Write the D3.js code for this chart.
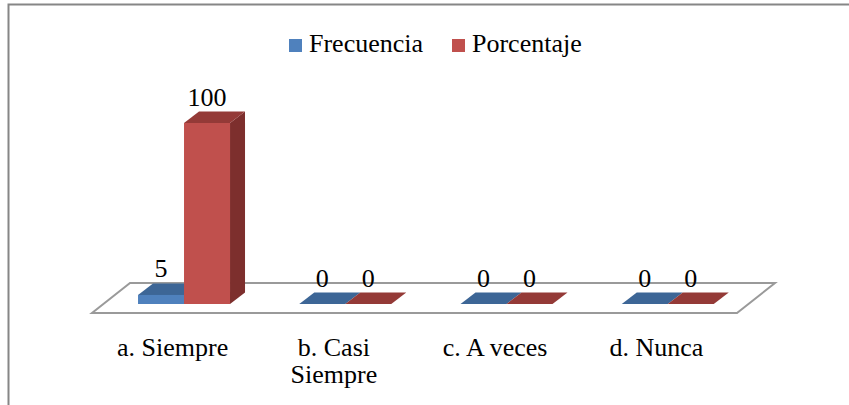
<!DOCTYPE html>
<html>
<head>
<meta charset="utf-8">
<script src="https://cdn.jsdelivr.net/npm/d3@7"></script>
<style>
  html, body { margin: 0; padding: 0; background: #fff; }
</style>
</head>
<body>
<svg id="chart" width="849" height="405"></svg>
<script>
// ---- data ----
const categories = ["a. Siempre", "b. Casi Siempre", "c. A veces", "d. Nunca"];
const seriesNames = ["Frecuencia", "Porcentaje"];
const frecuencia = [5, 0, 0, 0];
const porcentaje = [100, 0, 0, 0];
const yDomain = [0, 100];

// ---- styling ----
const FONT = "Tinos, FreeSerif, serif";
const FS = 26;
const colors = {
  Frecuencia: { front: "#4F81BD", top: "#3D6696", side: "#2F5079" },
  Porcentaje: { front: "#C0504D", top: "#943A37", side: "#7D2F2D" }
};

const svg = d3.select("#chart");
const data = categories.map((c, i) => ({ cat: c, Frecuencia: frecuencia[i], Porcentaje: porcentaje[i] }));

// chart border (only top/left visible in frame)
svg.append("rect").attr("x", 8.5).attr("y", 4.5).attr("width", 900).attr("height", 500)
  .attr("fill", "none").attr("stroke", "#868686").attr("stroke-width", 2);

// floor geometry
const floorFrontY = 313, floorLeft = 92, floorRight = 737;
const floorDX = 38, floorDY = -30;
const insetDX = 11.4, insetDY = -9;      // bar front plane offset from floor front
const barDX = 15, barDY = -11.5;         // bar depth

svg.append("path")
  .attr("d", `M${floorLeft},${floorFrontY} L${floorRight},${floorFrontY} L${floorRight + floorDX},${floorFrontY + floorDY} L${floorLeft + floorDX},${floorFrontY + floorDY} Z`)
  .attr("fill", "#fff").attr("stroke", "#9a9a9a").attr("stroke-width", 2);

// scales
const baseY = floorFrontY + insetDY;
const x0 = d3.scaleBand().domain(categories)
  .range([floorLeft + insetDX, floorRight + insetDX]).paddingInner(0).paddingOuter(0);
const barW = 46;
const x1 = d3.scaleBand().domain(seriesNames)
  .range([(x0.bandwidth() - 2 * barW) / 2, (x0.bandwidth() + 2 * barW) / 2]);
const y = d3.scaleLinear().domain(yDomain).range([baseY, 123]);

const txt = (sel) => sel.attr("font-family", FONT).attr("font-size", FS).attr("fill", "#000");

// bars
const groups = svg.append("g").selectAll("g").data(data).join("g")
  .attr("transform", d => `translate(${x0(d.cat)},0)`);

seriesNames.forEach(s => {
  const g = groups.append("g");
  g.each(function (d) {
    const gg = d3.select(this);
    const xl = x1(s), xr = x1(s) + x1.bandwidth();
    const yt = y(d[s]), yb = y(0);
    const c = colors[s];
    if (yb - yt > 0.01) {
      gg.append("path")
        .attr("d", `M${xr},${yb} L${xr + barDX},${yb + barDY} L${xr + barDX},${yt + barDY} L${xr},${yt} Z`)
        .attr("fill", c.side);
    }
    gg.append("path")
      .attr("d", `M${xl},${yt} L${xr},${yt} L${xr + barDX},${yt + barDY} L${xl + barDX},${yt + barDY} Z`)
      .attr("fill", c.top);
    if (yb - yt > 0.01) {
      gg.append("rect").attr("x", xl).attr("y", yt).attr("width", xr - xl).attr("height", yb - yt)
        .attr("fill", c.front);
    }
    gg.append("text").call(txt)
      .attr("x", (xl + xr) / 2).attr("y", yt + barDY - 6)
      .attr("text-anchor", "middle")
      .text(d[s]);
  });
});

// category labels
const labelMax = 145;
categories.forEach((c, i) => {
  const cx = x0(c) + x0.bandwidth() / 2 - insetDX;
  const t = svg.append("text").call(txt).attr("x", cx).attr("y", 356)
    .attr("text-anchor", "middle");
  const words = c.split(" ");
  let line = [];
  let tspan = t.append("tspan").attr("x", cx).attr("dy", 0);
  words.forEach(w => {
    line.push(w);
    tspan.text(line.join(" "));
    if (tspan.node().getComputedTextLength() > labelMax && line.length > 1) {
      line.pop();
      tspan.text(line.join(" "));
      line = [w];
      tspan = t.append("tspan").attr("x", cx).attr("dy", 27).text(w);
    }
  });
});

// legend
const legendItems = [{ name: "Frecuencia", x: 289 }, { name: "Porcentaje", x: 452 }];
const lg = svg.append("g");
legendItems.forEach(it => {
  lg.append("rect").attr("x", it.x).attr("y", 39).attr("width", 13).attr("height", 13)
    .attr("fill", colors[it.name].front);
  lg.append("text").call(txt).attr("x", it.x + 20).attr("y", 52).text(it.name);
});
</script>
</body>
</html>
